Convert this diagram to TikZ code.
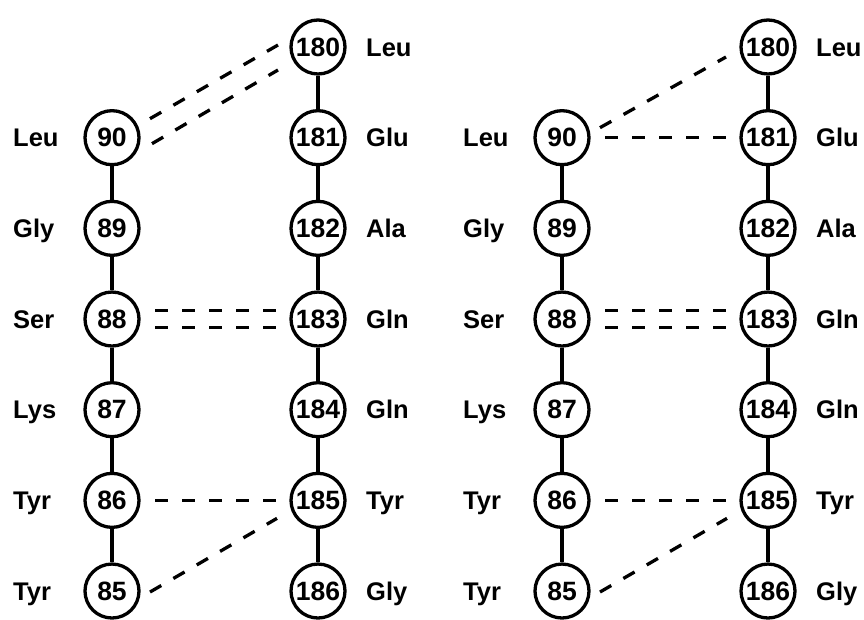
\documentclass[tikz,border=0pt]{standalone}
\usepackage{fontspec}
\setmainfont{Liberation Sans}
\usetikzlibrary{calc}
\begin{document}
\begin{tikzpicture}[x=1pt,y=-1pt,
  res/.style={circle,draw,line width=3.3pt,minimum size=54pt,inner sep=0pt,
    font=\bfseries\fontsize{26.5}{26.5}\selectfont},
  lbl/.style={anchor=base west,inner sep=0pt,
    font=\bfseries\fontsize{25.5}{25.5}\selectfont},
  bond/.style={line width=3.3pt},
  hb/.style={line width=3.3pt,dash pattern=on 13pt off 14pt},
  hbh/.style={hb,shorten <=14.5pt,shorten >=12.5pt}]
\useasboundingbox (0,0) rectangle (864,619);

% two copies of the strand pair, side by side
\foreach \p/\dx in {a/0,b/450}{
  % strand 85-90
  \foreach \n/\aa [count=\i from 1] in {90/Leu,89/Gly,88/Ser,87/Lys,86/Tyr,85/Tyr}{
    \node[res] (\p\n) at (112+\dx,47+90.67*\i) {\n};
    \node[lbl] (\p l\n) at (13+\dx,56+90.67*\i) {\aa};
  }
  % strand 180-186
  \foreach \n/\aa [count=\i from 0] in {180/Leu,181/Glu,182/Ala,183/Gln,184/Gln,185/Tyr,186/Gly}{
    \node[res] (\p\n) at (318+\dx,47+90.67*\i) {\n};
    \node[lbl] (\p l\n) at (366+\dx,56+90.67*\i) {\aa};
  }
  % backbone
  \foreach \u/\v in {90/89,89/88,88/87,87/86,86/85,180/181,181/182,182/183,183/184,184/185,185/186}
    \draw[bond] (\p\u) -- (\p\v);
  % common hydrogen bonds
  \draw[hbh] ([yshift=8.5pt]\p88.east) -- ([yshift=8.5pt]\p183.west);
  \draw[hbh] ([yshift=-8.5pt]\p88.east) -- ([yshift=-8.5pt]\p183.west);
  \draw[hbh] (\p86.east) -- (\p185.west);
  \draw[hb] ($(\p85)+(38,1)$) -- ($(\p185)+(-41,18)$);
}

% left pair: double bond 90-180
\draw[hb] ($(a90)+(38,-19)$) -- ($(a180)+(-40,-2)$);
\draw[hb] ($(a90)+(40,6)$) -- ($(a180)+(-40,23)$);

% right pair: 90 bonded to 180 and 181
\draw[hb] ($(b90)+(38,-10)$) -- ($(b180)+(-42,10)$);
\draw[hbh] (b90.east) -- (b181.west);
\end{tikzpicture}
\end{document}
